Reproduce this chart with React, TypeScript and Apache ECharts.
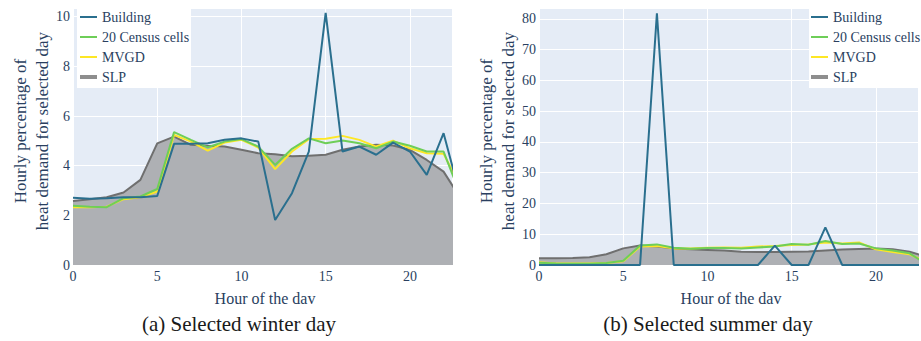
import React, { useEffect, useRef } from "react";
import * as echarts from "echarts";

const hours = [0, 1, 2, 3, 4, 5, 6, 7, 8, 9, 10, 11, 12, 13, 14, 15, 16, 17, 18, 19, 20, 21, 22, 23];
const xTicks = [0, 5, 10, 15, 20];

const winterSLP = [2.58, 2.65, 2.73, 2.92, 3.43, 4.9, 5.17, 4.84, 4.8, 4.77, 4.64, 4.5, 4.46, 4.38, 4.4, 4.44, 4.64, 4.77, 4.84, 4.81, 4.64, 4.23, 3.76, 2.7];
const winterBuilding = [2.71, 2.67, 2.69, 2.73, 2.73, 2.78, 4.88, 4.88, 4.9, 5.04, 5.1, 4.97, 1.81, 2.89, 4.57, 10.15, 4.57, 4.77, 4.44, 4.93, 4.57, 3.63, 5.31, 2.75];
const winterCensus = [2.39, 2.35, 2.33, 2.69, 2.76, 3.06, 5.35, 5.04, 4.74, 4.97, 5.07, 4.77, 4.03, 4.68, 5.1, 4.9, 5.01, 4.9, 4.7, 4.97, 4.8, 4.57, 4.57, 2.83];
const winterMVGD = [2.33, 2.33, 2.35, 2.65, 2.73, 2.96, 5.24, 4.97, 4.61, 4.93, 5.04, 4.73, 3.86, 4.57, 5.07, 5.08, 5.2, 5.04, 4.77, 5.01, 4.7, 4.5, 4.48, 3.18];

const summerSLP = [2.17, 2.17, 2.3, 2.5, 3.5, 5.4, 6.3, 6.0, 5.4, 5.1, 4.9, 4.7, 4.3, 4.2, 4.2, 4.3, 4.4, 4.7, 5.0, 5.2, 5.4, 5.1, 4.3, 2.7];
const summerBuilding = [0, 0, 0, 0, 0, 0, 0, 81.8, 0, 0, 0, 0, 0, 0, 6.3, 0, 0, 12.2, 0, 0, 0, 0, 0, 0];
const summerCensus = [0.76, 0.5, 0.4, 0.4, 0.65, 1.4, 6.3, 6.7, 5.6, 5.3, 5.5, 5.5, 5.4, 5.7, 6.0, 6.8, 6.6, 7.8, 6.8, 7.0, 5.4, 4.7, 3.8, 0.3];
const summerMVGD = [0.87, 0.5, 0.5, 0.5, 0.65, 1.2, 6.0, 6.2, 5.4, 5.4, 5.6, 5.7, 5.6, 6.0, 6.2, 6.5, 6.7, 7.3, 7.0, 7.3, 5.1, 4.2, 3.5, 0.9];

const seriesNames = ["Building", "20 Census cells", "MVGD", "SLP"];
const yLabelLines = ["Hourly percentage of", "heat demand for selected day"];
const xAxisTitle = "Hour of the dav";
const captions = ["(a) Selected winter day", "(b) Selected summer day"];

const TEXT = "#2a3f5f";
const FONT = "Liberation Serif";
const C_BUILDING = "#2a6f8e";
const C_CENSUS = "#6ece58";
const C_MVGD = "#fde725";
const C_SLP_LINE = "#6f6f6f";
const C_SLP_FILL = "#aeb0b4";

const pairs = (vals: number[]) => hours.map((h, i) => [h, vals[i]]);

export default function App() {
  const ref = useRef<HTMLDivElement>(null);
  useEffect(() => {
    if (!ref.current) return;
    const chart = echarts.init(ref.current, undefined, { renderer: "svg" });

    const grids = [
      { left: 73, top: 8, width: 379, height: 257 },
      { left: 539, top: 8, width: 379, height: 257 },
    ];
    const yMax = [10.35, 83.5];
    const yInt = [2, 10];

    const xAxes = grids.map((_, gi) => ({
      type: "value",
      gridIndex: gi,
      min: 0,
      max: 22.5,
      interval: 5,
      axisLine: { show: false },
      axisTick: { show: false },
      splitLine: { show: true, lineStyle: { color: "#ffffff", width: 1 } },
      axisLabel: {
        color: TEXT,
        fontFamily: FONT,
        fontSize: 14,
        margin: 4,
        formatter: (v: number) => (xTicks.includes(v) ? String(v) : ""),
      },
    }));
    const yAxes = grids.map((_, gi) => ({
      type: "value",
      gridIndex: gi,
      min: 0,
      max: yMax[gi],
      interval: yInt[gi],
      axisLine: { show: false },
      axisTick: { show: false },
      splitLine: { show: true, lineStyle: { color: "#ffffff", width: 1 } },
      axisLabel: {
        color: TEXT,
        fontFamily: FONT,
        fontSize: 14,
        margin: 3,
        formatter: (v: number) => (v % yInt[gi] === 0 ? String(v) : ""),
      },
    }));

    const datasets = [
      { slp: winterSLP, b: winterBuilding, c: winterCensus, m: winterMVGD },
      { slp: summerSLP, b: summerBuilding, c: summerCensus, m: summerMVGD },
    ];
    const series: any[] = [];
    datasets.forEach((d, gi) => {
      series.push({
        name: seriesNames[3], type: "line", xAxisIndex: gi, yAxisIndex: gi,
        data: pairs(d.slp), symbol: "none", color: C_SLP_LINE,
        lineStyle: { color: C_SLP_LINE, width: 2 },
        areaStyle: { color: C_SLP_FILL, opacity: 1 },
      });
      series.push({
        name: seriesNames[2], type: "line", xAxisIndex: gi, yAxisIndex: gi,
        data: pairs(d.m), symbol: "none", color: C_MVGD,
        lineStyle: { color: C_MVGD, width: 2 },
      });
      series.push({
        name: seriesNames[1], type: "line", xAxisIndex: gi, yAxisIndex: gi,
        data: pairs(d.c), symbol: "none", color: C_CENSUS,
        lineStyle: { color: C_CENSUS, width: 2 },
      });
      series.push({
        name: seriesNames[0], type: "line", xAxisIndex: gi, yAxisIndex: gi,
        data: pairs(d.b), symbol: "none", color: C_BUILDING,
        lineStyle: { color: C_BUILDING, width: 2 },
      });
    });

    const legendLeft = [80, 811];
    const legends: any[] = [];
    legendLeft.forEach((lx) => {
      legends.push({
        orient: "vertical", left: lx, top: 10, padding: 0, itemGap: 6,
        itemWidth: 17, itemHeight: 2, icon: "rect",
        data: seriesNames.slice(0, 3),
        textStyle: { color: TEXT, fontFamily: FONT, fontSize: 14 },
        selectedMode: false,
      });
      legends.push({
        orient: "vertical", left: lx, top: 70, padding: 0,
        itemWidth: 17, itemHeight: 4, icon: "rect",
        data: [{ name: seriesNames[3], itemStyle: { color: "#8e8e8e" } }],
        textStyle: { color: TEXT, fontFamily: FONT, fontSize: 14 },
        selectedMode: false,
      });
    });

    const graphics: any[] = [
      { type: "rect", z: 3, shape: { x: 77, y: 8, width: 114, height: 80 }, style: { fill: "#ffffff" } },
      { type: "rect", z: 3, shape: { x: 809, y: 8, width: 130, height: 80 }, style: { fill: "#ffffff" } },
    ];
    const yLabelX = [31, 497];
    yLabelX.forEach((x) => {
      graphics.push({
        type: "text", z: 5, x, y: 131, rotation: Math.PI / 2,
        style: {
          text: yLabelLines.join("\n"), fill: TEXT, font: `17px "${FONT}"`,
          align: "center", verticalAlign: "middle", lineHeight: 22,
        },
      });
    });
    const xTitleX = [265, 731];
    xTitleX.forEach((x) => {
      graphics.push({
        type: "text", z: 5, x, y: 298,
        style: { text: xAxisTitle, fill: TEXT, font: `16px "${FONT}"`, align: "center", verticalAlign: "middle" },
      });
    });
    const capX = [239, 708];
    capX.forEach((x, i) => {
      graphics.push({
        type: "text", z: 5, x, y: 324,
        style: { text: captions[i], fill: "#1a1a1a", font: `21px "${FONT}"`, align: "center", verticalAlign: "middle" },
      });
    });

    chart.setOption({
      animation: false,
      backgroundColor: "#ffffff",
      grid: grids.map((g) => ({ ...g, show: true, backgroundColor: "#e5ecf6", borderWidth: 0 })),
      xAxis: xAxes,
      yAxis: yAxes,
      legend: legends,
      series,
      graphic: { elements: graphics },
    });
    return () => chart.dispose();
  }, []);

  return (
    <div style={{ position: "fixed", left: 0, top: 0, width: 921, height: 341, background: "#fff" }}>
      <div ref={ref} style={{ width: 921, height: 341 }} />
    </div>
  );
}
